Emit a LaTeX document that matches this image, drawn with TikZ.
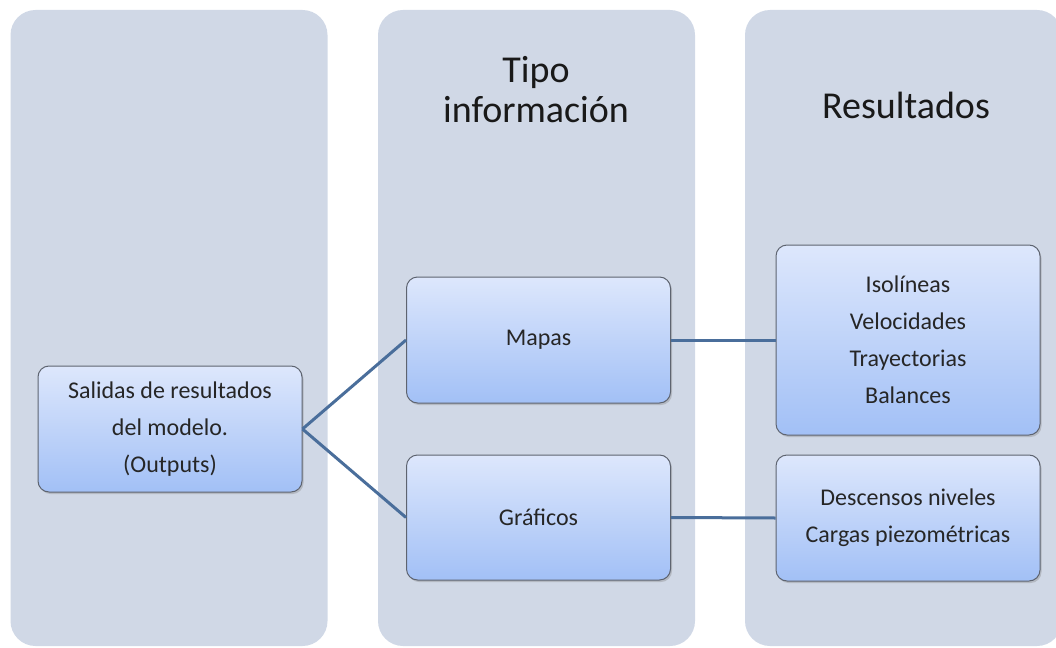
\documentclass[tikz,border=0pt]{standalone}
\usepackage{fontspec}
\setmainfont{Carlito}
\usepackage{tikz}
\usetikzlibrary{shadows}

\definecolor{colfill}{HTML}{D0D8E6}
\definecolor{boxtop}{HTML}{DDE7FC}
\definecolor{boxbot}{HTML}{A2C0F6}
\definecolor{linkblue}{HTML}{4A6E9B}
\definecolor{boxedge}{HTML}{5E6470}

\tikzset{
  column/.style={fill=colfill, rounded corners=25pt, minimum width=317pt,
    minimum height=636pt, inner sep=0pt},
  itembox/.style={top color=boxtop, bottom color=boxbot, draw=boxedge,
    line width=1pt, rounded corners=11pt, minimum width=264pt, inner sep=0pt,
    align=center, text=black!85,
    font=\fontsize{24}{37}\selectfont,
    drop shadow={shadow xshift=1.5pt, shadow yshift=-2pt, opacity=0.35}},
  heading/.style={align=center, font=\fontsize{38}{40}\selectfont, text=black!90},
  link/.style={draw=linkblue, line width=3pt}
}

\begin{document}
\begin{tikzpicture}[x=1pt, y=-1pt]
  \useasboundingbox (0,0) rectangle (1056,647);
  \clip (0,0) rectangle (1056,647);
  % columns
  \node[column] (colA) at (169,328) {};
  \node[column] (colB) at (536.5,328) {};
  \node[column] (colC) at (903.5,328) {};
  \node[heading] (hTipo) at (536,90) {Tipo\\información};
  \node[heading] (hRes) at (906,105) {Resultados};
  % boxes
  \node[itembox, minimum height=126pt] (salidas) at (170,429)
    {Salidas de resultados\\del modelo.\\(Outputs)};
  \node[itembox, minimum height=126pt] (mapas) at (538.5,340) {Mapas};
  \node[itembox, minimum height=125pt] (graficos) at (538.5,517.5) {Gráficos};
  \node[itembox, minimum height=190pt] (result) at (908,340)
    {Isolíneas\\Velocidades\\Trayectorias\\Balances};
  \node[itembox, minimum height=126pt] (descensos) at (908,518)
    {Descensos niveles\\Cargas piezométricas};
  % links
  \draw[link] (salidas.east) -- (mapas.west);
  \draw[link] (salidas.east) -- (graficos.west);
  \draw[link] (mapas.east) -- (result.west);
  \draw[link] (graficos.east) -- (descensos.west);
\end{tikzpicture}
\end{document}
